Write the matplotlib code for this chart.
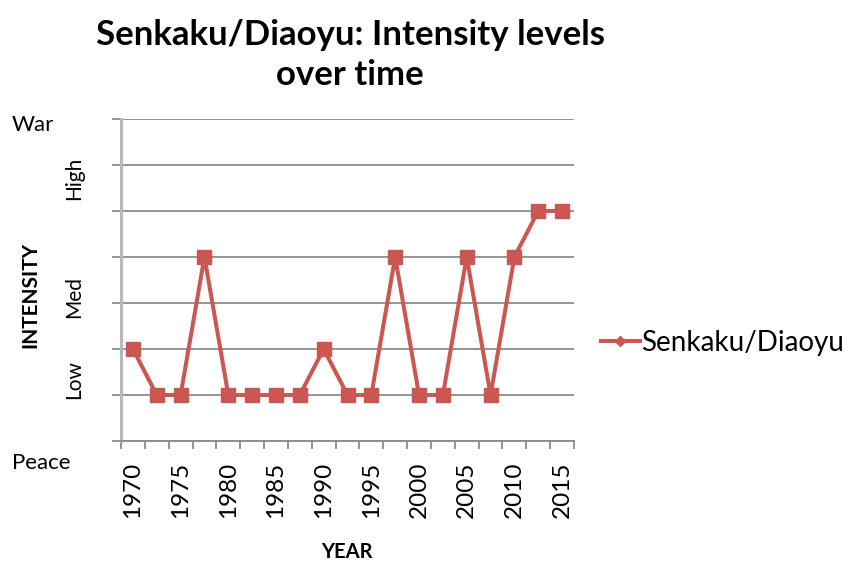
import matplotlib
matplotlib.use("Agg")
import matplotlib.pyplot as plt
from matplotlib.lines import Line2D
from matplotlib.transforms import blended_transform_factory

plt.rcParams["font.family"] = ["Lato", "DejaVu Sans"]

# Data: intensity level per survey year (0 = Peace ... 7 = War)
years = ["1970", "1972", "1975", "1977", "1980", "1982", "1985", "1987", "1990", "1992",
         "1995", "1997", "2000", "2002", "2005", "2007", "2010", "2012", "2015"]
intensity = [2, 1, 1, 4, 1, 1, 1, 1, 2, 1, 1, 4, 1, 1, 4, 1, 4, 5, 5]
level_labels = ["Low", "Med", "High"]
level_pos = [1.33, 3.13, 5.72]

RED = "#cb5752"
GRID = "#8c8c8c"

W, H = 851, 564
fig = plt.figure(figsize=(W / 100, H / 100), dpi=100)
ax = fig.add_axes([121 / W, 1 - 441 / H, 453 / W, 322 / H])

x = list(range(len(years)))
ax.plot(x, intensity, color=RED, lw=2.9, marker="s", ms=9.5,
        markerfacecolor=RED, markeredgecolor=RED, zorder=3)

ax.set_xlim(-0.5, len(years) - 0.5)
ax.set_ylim(0, 7)

# horizontal gridlines with short ticks to the left
ax.set_yticks(range(8))
ax.set_yticklabels([])
ax.yaxis.grid(True, color=GRID, lw=1.3)
ax.tick_params(axis="y", length=6.5, width=1.3, color=GRID, direction="out")

# category boundaries as ticks, every other year labelled
ax.set_xticks([i - 0.5 for i in range(len(years) + 1)], minor=True)
ax.set_xticks(x[::2])
ax.set_xticklabels(years[::2], rotation=90, fontsize=17.5)
ax.tick_params(axis="x", which="major", length=0, pad=15)
ax.tick_params(axis="x", which="minor", length=6, width=1.3, color=GRID, direction="out")

for s in ["top", "right"]:
    ax.spines[s].set_visible(False)
ax.spines["bottom"].set_color(GRID)
ax.spines["bottom"].set_linewidth(1.3)
ax.spines["left"].set_color("#b8b8b8")
ax.spines["left"].set_linewidth(2.2)
ax.set_axisbelow(True)

# level annotations along the y axis
trans = blended_transform_factory(fig.transFigure, ax.transData)
for lab, yv in zip(level_labels, level_pos):
    fig.text(74 / W, yv, lab, transform=trans, rotation=90,
             ha="center", va="center", fontsize=15)
fig.text(12 / W, 1 - 125 / H, "War", ha="left", va="center", fontsize=16)
fig.text(12 / W, 1 - 463 / H, "Peace", ha="left", va="center", fontsize=16)
fig.text(30 / W, 1 - 295 / H, "INTENSITY", rotation=90, ha="center", va="center",
         fontsize=15, fontweight="bold")
fig.text(347 / W, 1 - 552 / H, "YEAR", ha="center", va="center",
         fontsize=14.5, fontweight="bold")

fig.text(350 / W, 1 - 35 / H, "Senkaku/Diaoyu: Intensity levels", ha="center",
         va="center", fontsize=25, fontweight="bold")
fig.text(350 / W, 1 - 75 / H, "over time", ha="center", va="center",
         fontsize=25, fontweight="bold")

handle = Line2D([], [], color=RED, lw=2.9, marker="D", ms=5.5)
fig.legend([handle], ["Senkaku/Diaoyu"], loc="center left",
           bbox_to_anchor=(601 / W, 1 - 343 / H), frameon=False, fontsize=20,
           handlelength=1.4, handletextpad=0.05, borderaxespad=0, borderpad=0)

fig.savefig("out.png", dpi=100)
